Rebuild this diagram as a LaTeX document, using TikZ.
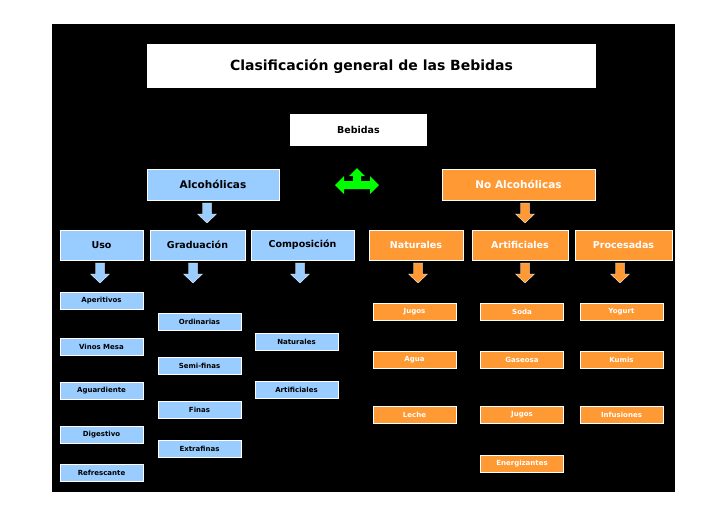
\documentclass[tikz,border=0pt]{standalone}
\usepackage{fontspec}
\setmainfont{DejaVu Sans}
\definecolor{lb}{RGB}{153,204,255}
\definecolor{or}{RGB}{255,153,51}
\definecolor{gr}{RGB}{0,255,0}
\begin{document}
\begin{tikzpicture}[x=1pt,y=-1pt,font=\bfseries,
  blu/.style={fill=lb,draw=white,line width=0.6pt,inner sep=0},
  ora/.style={fill=or,draw=white,line width=0.6pt,inner sep=0,text=white},
  big/.style={font=\bfseries\fontsize{10.5}{12}\selectfont},
  mid/.style={font=\bfseries\fontsize{9.5}{11}\selectfont},
  sm/.style={font=\bfseries\fontsize{7}{8}\selectfont},
  pics/darr/.style={code={\fill[#1,draw=white,line width=0.3pt] (-4.5,0)--(4.5,0)--(4.5,11)--(9.5,11)--(0,20)--(-9.5,11)--(-4.5,11)--cycle;}}]
\useasboundingbox (0,0) rectangle (728,515);
\fill[white] (0,0) rectangle (728,515);
\fill[black] (52,24) rectangle (675,492);
% top
\node[fill=white,minimum width=449,minimum height=44,inner sep=0,font=\bfseries\fontsize{14}{16}\selectfont] (title) at (371.5,66) {Clasificación general de las Bebidas};
\node[fill=white,minimum width=137,minimum height=32,inner sep=0,mid] (beb) at (358.5,130) {Bebidas};
\node[blu,big,minimum width=132,minimum height=31] (alc) at (213,184.5) {Alcohólicas};
\node[ora,big,minimum width=153,minimum height=31] (noalc) at (518.5,184.5) {No Alcohólicas};
% green arrow
\fill[gr] (335,185)--(344,176)--(344,181)--(353,181)--(353,176)--(349,176)--(357,168)--(365,176)--(361,176)--(361,181)--(370,181)--(370,176)--(379,185)--(370,194)--(370,189)--(344,189)--(344,194)--cycle;
\pic at (207,203) {darr=lb};
\pic at (525,203) {darr=or};
% row 2
\node[blu,mid,minimum width=83,minimum height=30] (uso) at (101.5,245) {Uso};
\node[blu,mid,minimum width=95,minimum height=30] (grad) at (197.5,245) {Graduación};
\node[blu,mid,minimum width=103,minimum height=30] (comp) at (302.5,245) {Composición};
\node[ora,mid,minimum width=94,minimum height=30] (nat) at (416,245) {Naturales};
\node[ora,mid,minimum width=96,minimum height=30] (art) at (520,245) {Artificiales};
\node[ora,mid,minimum width=97,minimum height=30] (proc) at (623.5,245) {Procesadas};
\foreach \x in {100,193,300}{\pic at (\x,263) {darr=lb};}
\foreach \x in {418,525,620}{\pic at (\x,263) {darr=or};}
% small
\tikzset{sb/.style={blu,sm,minimum width=83,minimum height=17},so/.style={ora,sm,minimum width=83,minimum height=17}}
\node[sb] (a1) at (101.5,300.5) {Aperitivos};
\node[sb] (a2) at (101.5,346.5) {Vinos Mesa};
\node[sb] (a3) at (101.5,390.5) {Aguardiente};
\node[sb] (a4) at (101.5,434.5) {Digestivo};
\node[sb] (a5) at (101.5,472.5) {Refrescante};
\node[sb] (g1) at (199.5,321.5) {Ordinarias};
\node[sb] (g2) at (199.5,365.5) {Semi-finas};
\node[sb] (g3) at (199.5,409.5) {Finas};
\node[sb] (g4) at (199.5,448.5) {Extrafinas};
\node[sb] (c1) at (296.5,341.5) {Naturales};
\node[sb] (c2) at (296.5,389.5) {Artificiales};
\node[so] (n1) at (414.5,312) {Jugos};
\node[so] (n2) at (414.5,360) {Agua};
\node[so] (n3) at (414.5,414.5) {Leche};
\node[so] (r1) at (522,312) {Soda};
\node[so] (r2) at (522,360) {Gaseosa};
\node[so] (r3) at (522,414.5) {Jugos};
\node[so] (r4) at (522,463.5) {Energizantes};
\node[so] (p1) at (621.5,312) {Yogurt};
\node[so] (p2) at (621.5,360) {Kumis};
\node[so] (p3) at (621.5,414.5) {Infusiones};
\end{tikzpicture}
\end{document}
